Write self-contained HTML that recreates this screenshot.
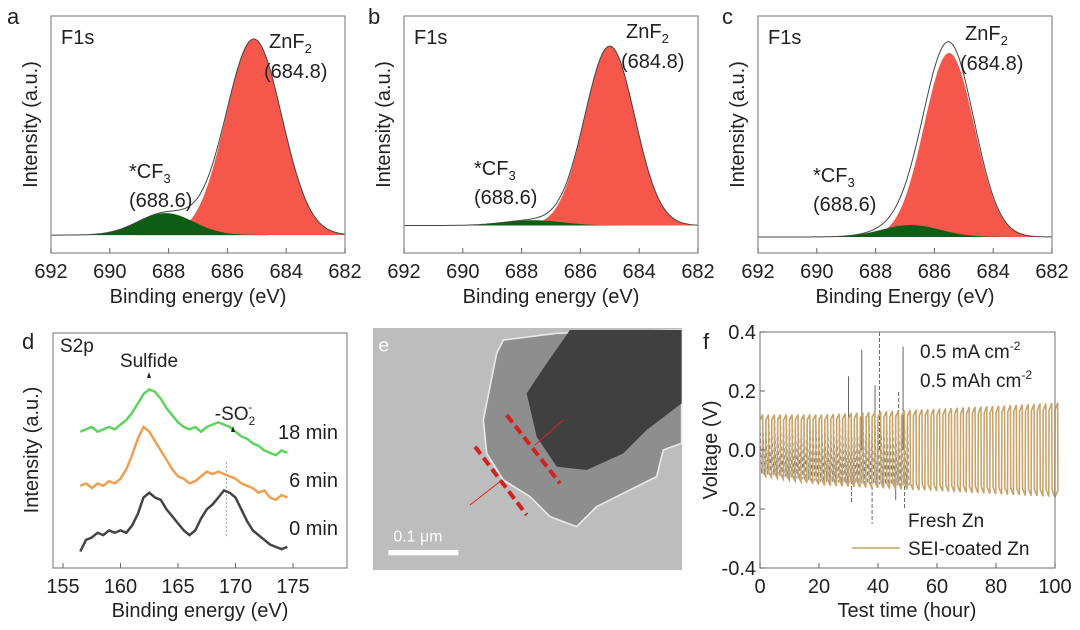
<!DOCTYPE html>
<html><head><meta charset="utf-8"><style>
body{margin:0;background:#fff;}
svg{display:block;font-family:"Liberation Sans","Noto Sans CJK SC",sans-serif;}
</style></head><body>
<svg id="fig" width="1080" height="630" viewBox="0 0 1080 630">
<!-- TEM panel e -->
<g>
  <rect x="373" y="328" width="309" height="242" fill="#bdbdbd"/>
  <g transform="translate(370,320) scale(0.3333)">
    <polygon fill="#8e8e8e" stroke="#e8e8e8" stroke-width="5" points="400,60 560,40 935,30 935,370 880,390 860,470 800,500 680,560 620,620 540,590 480,530 400,480 350,400 340,300 360,200 380,100"/>
    <polygon fill="#404040" points="600,30 935,30 935,250 830,330 760,400 650,450 560,440 500,350 470,220 530,130"/>
    <line x1="410" y1="285" x2="570" y2="490" stroke="#d42020" stroke-width="12" stroke-dasharray="28,14"/>
    <line x1="315" y1="380" x2="470" y2="585" stroke="#d42020" stroke-width="12" stroke-dasharray="28,14"/>
    <line x1="300" y1="555" x2="390" y2="485" stroke="#e02020" stroke-width="3"/>
    <line x1="580" y1="300" x2="495" y2="375" stroke="#e02020" stroke-width="3"/>
    <rect x="55" y="690" width="210" height="16" fill="#fff"/>
    <text x="70" y="665" font-size="48" fill="#fff">0.1 μm</text>
    <text x="25" y="95" font-size="58" fill="#fff">e</text>
  </g>
</g>
</svg>
<script>
const svgNS="http://www.w3.org/2000/svg";
const fig=document.getElementById('fig');
function mk(tag,attrs,parent){const e=document.createElementNS(svgNS,tag);for(const k in attrs)e.setAttribute(k,attrs[k]);(parent||fig).appendChild(e);return e;}
function txt(x,y,s,size,anchor,parent){const t=mk('text',{x:x,y:y,'font-size':size,'text-anchor':anchor||'start',fill:'#222'},parent);t.innerHTML=s;return t;}

// ---------- XPS F1s panels a,b,c (peak fit parameters) ----------
const xpsPanels=['a','b','c'];
const xpsBaseline=[7.5,11.5,6.7];
const znf2Center=[685.1,685.0,685.5];
const znf2Height=[82,75,77];
const znf2Sigma=[0.95,0.85,0.85];
const cf3Center=[688.1,687.6,686.8];
const cf3Height=[9.2,2.2,5];
const cf3Sigma=[0.95,1.0,1.0];
const xpsTicks=[692,690,688,686,684,682];
const xpsXTitles=['Binding energy (eV)','Binding energy (eV)','Binding Energy (eV)'];
const boxLeft=[51,404,758];

function gauss(x,c,h,s){return h*Math.exp(-0.5*((x-c)/s)**2);}

xpsPanels.forEach((p,i)=>{
  const g=mk('g',{});
  
  
  const L=boxLeft[i],R=L+294,T=16,B=253;
  const X=v=>L+(692-v)/10*(R-L);
  const Y=v=>B-v*2.39;
  const base=xpsBaseline[i];
  const pts=(f)=>{let a=[];for(let e=692;e>=682;e-=0.05)a.push(X(e).toFixed(1)+','+Y(f(e)).toFixed(1));return a;};
  const red=pts(e=>base+gauss(e,znf2Center[i],znf2Height[i],znf2Sigma[i]));
  const rp=mk('polygon',{points:X(692)+','+Y(base)+' '+red.join(' ')+' '+X(682)+','+Y(base),fill:'#f5574a'},g);
  
  
  const gr=pts(e=>base+gauss(e,cf3Center[i],cf3Height[i],cf3Sigma[i]));
  const gp=mk('polygon',{points:X(692)+','+Y(base)+' '+gr.join(' ')+' '+X(682)+','+Y(base),fill:'#0d5e14'},g);
  
  
  const env=pts(e=>base+gauss(e,znf2Center[i],znf2Height[i],znf2Sigma[i])+gauss(e,cf3Center[i],cf3Height[i],cf3Sigma[i])+(i==2?2.5*Math.exp(-0.5*((e-685.5)/0.9)**2):0));
  const el=mk('polyline',{points:env.join(' '),fill:'none',stroke:'#444','stroke-width':1},g);
  
  
  const fr=mk('rect',{x:L,y:T,width:R-L,height:B-T,fill:'none',stroke:'#888','stroke-width':1.2},g);
  
  
  xpsTicks.forEach(t=>{
    mk('line',{x1:X(t),y1:B,x2:X(t),y2:B-5,stroke:'#666'},g);
    const tl=txt(X(t),278,t,20,'middle',g);
    
    
  });
  const xt=txt((L+R)/2,303,xpsXTitles[i],20,'middle',g);
  
  
  const yt=txt(0,0,'Intensity (a.u.)',20,'middle',g);
  yt.setAttribute('transform','translate('+(L-14)+','+((T+B)/2-10)+') rotate(-90)');
  
  
  const pl=txt(L-44+(i==0?0:8),24,p,22,'start',g);
  
  
  const f1=txt(L+10,44,'F1s',20,'start',g);
  
  
  const zx=[L+218,L+222,L+207][i];
  const zy=[48,38,40][i];
  const zn=txt(zx,zy,'ZnF<tspan font-size="13" dy="5">2</tspan>',20,'start',g);
  
  
  const zv=txt(zx-5,zy+30,'(684.8)',20,'start',g);
  
  
  const cx=[L+78,L+70,L+55][i];
  const cy=[178,175,182][i];
  const cf=txt(cx,cy,'*CF<tspan font-size="13" dy="5">3</tspan>',20,'start',g);
  
  
  const cv=txt(cx,cy+29,'(688.6)',20,'start',g);
  
  
});

// ---------- Panel d S2p ----------
const s2pEnergy=[156.5,157,157.5,158,158.5,159,159.5,160,160.5,161,161.5,162,162.5,163,163.5,164,164.5,165,165.5,166,166.5,167,167.5,168,168.5,169,169.5,170,170.5,171,171.5,172,172.5,173,173.5,174,174.5];
const s2p0min=[0.7,1.2,1.3,1.5,1.4,1.6,1.5,1.6,1.5,1.8,2.3,3.0,3.2,3.0,2.9,2.5,2.2,1.9,1.6,1.4,1.6,2.1,2.5,2.7,3.0,3.3,3.2,3.0,2.5,2.0,1.6,1.4,1.2,1.0,0.9,0.8,0.9];
const s2p6min=[3.5,3.6,3.4,3.6,3.5,3.7,3.6,3.8,4.2,4.8,5.5,6.0,5.8,5.4,5.0,4.6,4.2,3.9,3.8,3.6,3.7,3.9,4.1,4.0,4.1,4.0,3.9,3.8,3.6,3.5,3.4,3.2,3.3,3.0,2.9,3.1,3.0];
const s2p18min=[5.8,5.9,6.0,5.8,5.9,6.0,5.9,6.1,6.3,6.6,7.0,7.4,7.6,7.5,7.2,6.8,6.5,6.2,6.0,5.9,6.0,5.8,6.0,6.1,6.2,6.1,6.0,5.8,5.6,5.5,5.3,5.2,5.0,4.9,4.8,5.0,4.9];
const s2pTicks=[155,160,165,170,175];
(function(){
  const g=mk('g',{});
  
  
  const L=53,R=347,T=333,B=568;
  const X=v=>63+(v-155)*11.5;
  const Y=v=>B-v*23.5;
  const fr=mk('rect',{x:L,y:T,width:R-L,height:B-T,fill:'none',stroke:'#888','stroke-width':1.2},g);
  
  
  const dl=mk('line',{x1:X(169.2),y1:Y(4.5),x2:X(169.2),y2:Y(1.3),stroke:'#999','stroke-dasharray':'2,2'},g);
  
  
  const series=[[s2p0min,'#444','0 min'],[s2p6min,'#f0a050','6 min'],[s2p18min,'#5fd35f','18 min']];
  series.forEach(([d,c,n],k)=>{
    const pts=s2pEnergy.map((e,j)=>X(e).toFixed(1)+','+Y(d[j]).toFixed(1)).join(' ');
    const pl=mk('polyline',{points:pts,fill:'none',stroke:c,'stroke-width':2.5},g);
    
    
    const lt=txt(338,[535,487,439][k],n,20,'end',g);
    
    
  });
  s2pTicks.forEach(t=>{
    mk('line',{x1:X(t),y1:B,x2:X(t),y2:B-5,stroke:'#666'},g);
    const tl=txt(X(t),593,t,20,'middle',g);
    
    
  });
  const xt=txt(200,617,'Binding energy (eV)',20,'middle',g);
  
  
  const yt=txt(0,0,'Intensity (a.u.)',20,'middle',g);
  yt.setAttribute('transform','translate(38,450) rotate(-90)');
  
  
  const pl=txt(22,349,'d',22,'start',g);
  
  
  const s=txt(60,352,'S2p',19,'start',g);
  
  
  const sf=txt(149,367,'Sulfide',19,'middle',g);
  
  
  const so=txt(235,420,'-SO<tspan font-size="12" dy="5">2</tspan><tspan font-size="12" dy="-14" dx="-7">-</tspan>',19,'middle',g);
  
  
  mk('polygon',{points:'147,378 151,378 149,372',fill:'#222'},g);
  mk('polygon',{points:'231,432 235,432 233,426',fill:'#222'},g);
})();

// ---------- Panel f voltage ----------
const envHours=[0,20,40,60,80,100];
const envUpper=[0.12,0.12,0.13,0.14,0.15,0.16];
const envLower=[-0.09,-0.12,-0.13,-0.14,-0.15,-0.16];
const cycleHours=2;
const spikeHours=[30,31,34.5,38,39,40.5,46,47,48.5,49];
const spikeVolts=[0.25,-0.18,0.34,-0.25,0.22,0.4,-0.17,0.2,0.35,-0.2];
const vTicks=[0.4,0.2,0.0,-0.2,-0.4];
const tTicks=[0,20,40,60,80,100];
(function(){
  const g=mk('g',{});
  
  
  const L=760,R=1055,T=332,B=568;
  const X=v=>L+v/100*(R-L);
  const Y=v=>T+(0.4-v)/0.8*(B-T);
  const interp=(arr,h)=>{for(let k=0;k<envHours.length-1;k++){if(h<=envHours[k+1]){const f=(h-envHours[k])/(envHours[k+1]-envHours[k]);return arr[k]+f*(arr[k+1]-arr[k]);}}return arr[arr.length-1];};
  // Fresh Zn spikes
  let fp=[];
  for(let h=0;h<=50;h+=cycleHours/2){fp.push(X(h)+','+Y(interp(envUpper,h)*0.9));fp.push(X(h+0.5)+','+Y(interp(envLower,h)*0.9));}
  const fl=mk('polyline',{points:fp.join(' '),fill:'none',stroke:'#777','stroke-width':0.8,'stroke-dasharray':'4,3'},g);
  
  
  spikeHours.forEach((h,k)=>{
    const s=mk('line',{x1:X(h),y1:Y(0),x2:X(h),y2:Y(spikeVolts[k]),stroke:'#666','stroke-width':1,'stroke-dasharray':k%2?'4,2':'none'},g);
    
    
  });
  // SEI-coated sawtooth
  let sp=[];
  for(let h=0;h<=100;h+=cycleHours){
    sp.push(X(h)+','+Y(interp(envUpper,h)*0.85));
    sp.push(X(h+0.9)+','+Y(interp(envUpper,h)));
    sp.push(X(h+1)+','+Y(interp(envLower,h)*0.85));
    sp.push(X(Math.min(h+1.9,100))+','+Y(interp(envLower,h)));
  }
  const sl=mk('polyline',{points:sp.join(' '),fill:'none',stroke:'#c9a46a','stroke-width':1.6},g);
  
  
  const fr=mk('rect',{x:L,y:T,width:R-L,height:B-T,fill:'none',stroke:'#888','stroke-width':1.2},g);
  
  
  vTicks.forEach(v=>{
    mk('line',{x1:L,y1:Y(v),x2:L+5,y2:Y(v),stroke:'#666'},g);
    const tl=txt(L-4,Y(v)+7,v.toFixed(1),20,'end',g);
    
    
  });
  tTicks.forEach(t=>{
    mk('line',{x1:X(t),y1:B,x2:X(t),y2:B-5,stroke:'#666'},g);
    const tl=txt(X(t),593,t,20,'middle',g);
    
    
  });
  const xt=txt(907,617,'Test time (hour)',20,'middle',g);
  
  
  const yt=txt(0,0,'Voltage (V)',20,'middle',g);
  yt.setAttribute('transform','translate(717,450) rotate(-90)');
  
  
  const pl=txt(703,349,'f',22,'start',g);
  
  
  const c1=txt(920,358,'0.5 mA cm<tspan font-size="12" dy="-8">-2</tspan>',19,'start',g);
  
  
  const c2=txt(920,387,'0.5 mAh cm<tspan font-size="12" dy="-8">-2</tspan>',19,'start',g);
  
  
  const l1=txt(908,527,'Fresh Zn',19,'start',g);
  
  
  const ll=mk('line',{x1:852,y1:548,x2:900,y2:548,stroke:'#c9a46a','stroke-width':1.5},g);
  
  
  const l2=txt(908,555,'SEI-coated Zn',19,'start',g);
  
  
})();
</script>
</body></html>
